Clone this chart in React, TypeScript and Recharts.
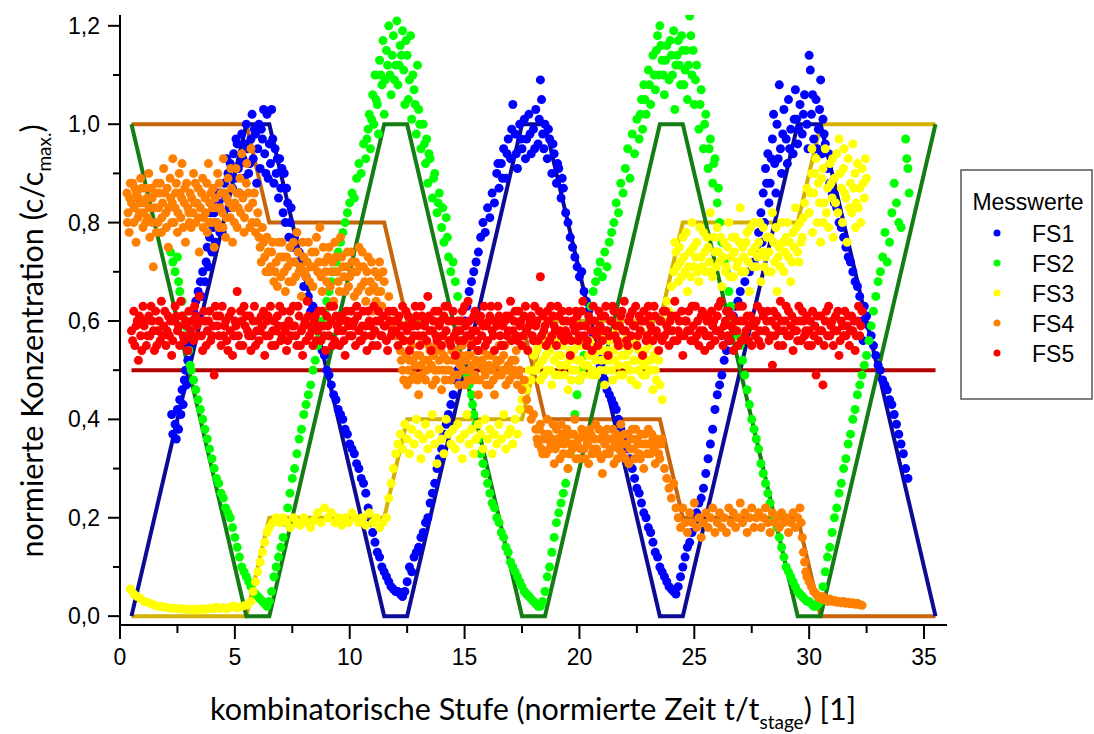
import React from 'react'
import { ComposedChart, Scatter, Line, XAxis, YAxis } from 'recharts'

type Pt = [number, number]

// measured concentrations (x = stage, y = c/cmax)
const fs1Points: Pt[] = [
  [2.25,0.41],[2.3,0.37],[2.4,0.39],[2.45,0.36],[2.5,0.42],[2.55,0.38],[2.6,0.44],[2.65,0.41],[2.7,0.46],[2.75,0.43],[2.8,0.48],[2.85,0.5],[2.9,0.47],[2.95,0.52],[3.0,0.55],[3.05,0.58],[3.1,0.56],[3.15,0.6],[3.2,0.62],[3.3,0.64],[3.35,0.61],[3.4,0.66],[3.5,0.68],[3.55,0.65],[3.6,0.7],[3.7,0.68],[3.75,0.72],[3.8,0.75],[3.85,0.71],[3.9,0.77],[4.0,0.74],[4.05,0.79],[4.1,0.82],[4.15,0.76],[4.2,0.8],[4.3,0.84],[4.35,0.78],[4.4,0.86],[4.5,0.82],[4.55,0.88],
  [4.6,0.85],[4.7,0.9],[4.75,0.83],[4.8,0.92],[4.9,0.87],[4.95,0.94],[5.0,0.89],[5.1,0.96],[5.15,0.91],[5.2,0.86],[5.3,0.98],[5.35,0.93],[5.4,0.89],[5.5,1.0],[5.55,0.95],[5.6,0.9],[5.7,0.97],[5.75,1.02],[5.8,0.93],[5.9,0.98],[5.95,0.88],[6.0,0.95],[6.05,1.0],[6.1,0.91],[6.2,0.97],[6.25,1.03],[6.3,0.94],[6.4,1.02],[6.45,0.89],[6.5,0.96],[6.55,0.92],[6.6,1.03],[6.7,0.88],[6.75,0.95],[6.8,0.9],[6.9,0.85],[6.95,0.93],[7.0,0.87],[7.1,0.82],[7.15,0.9],[7.2,0.8],[7.3,0.84],[7.35,0.77],[7.4,0.8],[7.5,0.75],
  [3.95,0.82],[4.25,0.86],[4.45,0.78],[4.65,0.93],[4.85,0.89],[5.05,0.97],[5.25,0.92],[5.45,0.96],[5.65,0.92],[5.85,0.99],[6.15,0.99],[6.35,0.9],[6.65,0.97],[6.85,0.93],[7.05,0.91],[7.25,0.87],[7.45,0.83],
  [7.6,0.77],[7.7,0.72],[7.8,0.74],[7.9,0.7],[8.0,0.67],[8.1,0.69],[8.2,0.65],[8.3,0.62],[8.4,0.63],[8.5,0.6],[8.6,0.58],[8.7,0.56],[8.8,0.54],[8.9,0.53],[9.0,0.5],[9.1,0.49],[9.2,0.47],[9.3,0.45],[9.4,0.44],[9.5,0.42],[9.6,0.41],[9.7,0.4],[9.8,0.38],[9.9,0.37],[10.0,0.35],[10.1,0.34],[10.2,0.33],[10.3,0.31],[10.4,0.3],[10.5,0.28],[10.6,0.27],[10.7,0.25],[10.8,0.22],[10.9,0.19],[11.0,0.17],[11.1,0.15],[11.2,0.13],[11.3,0.12],[11.4,0.1],[11.5,0.09],[11.6,0.08],[11.7,0.07],[11.8,0.06],[11.9,0.055],[12.0,0.05],[12.1,0.05],[12.2,0.045],[12.3,0.04],[12.4,0.05],
  [12.5,0.07],[12.6,0.1],[12.7,0.09],[12.8,0.12],[12.9,0.13],[13.0,0.14],[13.1,0.16],[13.2,0.17],[13.3,0.19],[13.4,0.2],[13.5,0.23],[13.6,0.25],[13.7,0.27],[13.8,0.3],[13.9,0.32],[14.0,0.34],[14.1,0.37],[14.2,0.39],[14.3,0.41],[14.4,0.43],[14.5,0.45],[14.6,0.48],[14.7,0.5],[14.8,0.53],[14.9,0.56],[15.0,0.6],[15.1,0.63],[15.2,0.66],[15.3,0.68],[15.4,0.7],[15.5,0.72],[15.6,0.74],[15.7,0.77],[15.8,0.8],[15.9,0.78],[16.0,0.83],[16.1,0.81],[16.2,0.86],[16.3,0.84],
  [16.4,0.9],[16.5,0.87],[16.6,0.92],[16.7,0.95],[16.8,0.89],[16.9,0.97],[17.0,0.93],[17.1,1.04],[17.2,0.98],[17.3,0.91],[17.4,1.0],[17.5,0.95],[17.6,1.01],[17.7,0.97],[17.8,1.02],[17.9,0.94],[18.0,0.99],[18.1,1.03],[18.2,0.96],[18.3,1.09],[18.35,1.05],[18.4,0.98],[18.5,1.0],[18.6,0.93],[18.7,0.97],[18.8,0.9],[18.9,0.94],[19.0,0.88],[19.1,0.91],[19.2,0.85],[19.3,0.87],[19.4,0.82],[19.5,0.8],[19.6,0.77],
  [16.45,0.92],[16.65,0.89],[16.85,0.94],[17.05,0.99],[17.25,0.94],[17.45,0.97],[17.65,0.93],[17.85,0.98],[18.05,0.95],[18.25,1.01],[18.45,0.95],[18.65,0.99],[18.85,0.96],[19.05,0.92],[19.25,0.89],
  [19.7,0.75],[19.8,0.73],[19.9,0.71],[20.0,0.69],[20.1,0.7],[20.2,0.66],[20.3,0.64],[20.4,0.62],[20.5,0.6],[20.6,0.57],[20.7,0.55],[20.8,0.53],[20.9,0.51],[21.0,0.49],[21.1,0.48],[21.2,0.46],[21.3,0.45],[21.4,0.44],[21.5,0.43],[21.6,0.42],[21.7,0.4],[21.8,0.38],[21.9,0.36],[22.0,0.35],[22.1,0.34],[22.2,0.32],[22.3,0.3],[22.4,0.28],[22.5,0.26],[22.6,0.25],[22.7,0.23],[22.8,0.21],[22.9,0.2],[23.0,0.18],[23.1,0.17],[23.2,0.15],[23.3,0.13],[23.4,0.12],[23.5,0.1],[23.6,0.09],[23.7,0.08],[23.8,0.07],[23.9,0.06],[24.0,0.055],[24.1,0.05],[24.2,0.045],[24.3,0.06],
  [24.4,0.08],[24.5,0.1],[24.6,0.12],[24.7,0.14],[24.8,0.15],[24.9,0.17],[25.0,0.19],[25.1,0.21],[25.2,0.23],[25.3,0.24],[25.4,0.26],[25.5,0.29],[25.6,0.32],[25.7,0.35],[25.8,0.38],[25.9,0.42],[26.0,0.45],[26.1,0.47],[26.2,0.49],[26.3,0.52],[26.4,0.54],[26.5,0.56],[26.6,0.59],[26.7,0.61],[26.8,0.63],[26.9,0.64],[27.0,0.66],[27.2,0.68],[27.4,0.7],[27.6,0.72],[27.7,0.75],[27.8,0.78],[27.9,0.82],[27.95,0.76],
  [28.0,0.86],[28.05,0.8],[28.1,0.91],[28.2,0.94],[28.25,0.84],[28.3,0.88],[28.4,0.97],[28.5,0.92],[28.55,0.86],[28.6,1.0],[28.7,1.08],[28.75,0.95],[28.8,0.9],[28.9,1.03],[29.0,0.97],[29.05,0.92],[29.1,1.05],[29.2,0.99],[29.3,0.94],[29.4,1.07],[29.45,1.01],[29.5,0.96],[29.6,1.04],[29.7,0.98],[29.8,1.06],[29.9,1.0],[30.0,1.14],[30.05,1.11],[30.1,1.02],[30.2,0.97],[30.3,1.05],[30.4,0.99],[30.5,1.09],[30.55,0.94],[30.6,1.01],[30.7,0.96],[30.8,0.91],[30.9,0.88],
  [28.15,0.88],[28.35,0.93],[28.45,1.02],[28.65,0.93],[28.85,0.98],[29.15,0.95],[29.35,1.01],[29.55,0.99],[29.75,1.02],[29.95,0.95],[30.15,1.06],[30.35,0.95],[30.45,1.03],[30.65,0.98],[30.85,0.94],
  [31.0,0.86],[31.1,0.84],[31.2,0.83],[31.3,0.8],[31.4,0.79],[31.5,0.77],[31.6,0.75],[31.7,0.73],[31.8,0.72],[31.9,0.7],[32.0,0.68],[32.1,0.67],[32.2,0.65],[32.3,0.6],[32.35,0.56],[32.4,0.63],[32.5,0.61],[32.6,0.59],[32.7,0.57],[32.8,0.55],[32.9,0.53],[33.0,0.51],[33.1,0.5],[33.2,0.48],[33.3,0.47],[33.4,0.46],[33.5,0.44],[33.6,0.43],[33.7,0.41],[33.8,0.39],[33.9,0.37],[34.0,0.35],[34.1,0.33],[34.2,0.3],[34.3,0.28],
]

const fs2Points: Pt[] = [
  [2.2,0.74],[2.3,0.72],[2.4,0.7],[2.5,0.73],[2.55,0.68],[2.6,0.66],[2.7,0.64],[2.75,0.61],[2.8,0.59],[2.9,0.57],[3.0,0.54],[3.05,0.51],[3.1,0.5],[3.2,0.48],[3.3,0.46],[3.4,0.44],[3.5,0.42],[3.6,0.4],[3.7,0.38],[3.8,0.36],[3.9,0.34],[4.0,0.32],[4.1,0.3],[4.2,0.28],[4.3,0.27],[4.4,0.25],[4.5,0.24],[4.6,0.22],[4.7,0.21],[4.8,0.2],[4.9,0.18],[5.0,0.16],[5.1,0.14],[5.2,0.12],[5.3,0.1],[5.4,0.09],[5.5,0.08],[5.6,0.07],[5.7,0.06],[5.8,0.05],[5.9,0.045],[6.0,0.04],[6.1,0.035],[6.2,0.03],[6.3,0.025],[6.4,0.02],
  [6.5,0.03],[6.6,0.05],[6.7,0.08],[6.8,0.1],[6.9,0.12],[7.0,0.14],[7.1,0.16],[7.2,0.19],[7.3,0.22],[7.4,0.25],[7.5,0.28],[7.6,0.3],[7.7,0.33],[7.8,0.36],[7.9,0.38],[8.0,0.41],[8.1,0.43],[8.2,0.45],[8.3,0.47],[8.4,0.5],[8.5,0.52],[8.6,0.55],[8.7,0.57],[8.8,0.6],[8.9,0.62],[9.0,0.64],[9.1,0.66],[9.2,0.68],[9.3,0.7],[9.4,0.72],[9.5,0.74],[9.6,0.76],[9.7,0.78],[9.8,0.8],[9.9,0.82],[10.0,0.84],[10.1,0.86],[10.2,0.85],[10.3,0.89],[10.4,0.92],[10.5,0.9],
  [10.6,0.96],[10.7,0.93],[10.8,0.99],[10.85,1.02],[10.9,0.95],[11.0,1.06],[11.05,1.0],[11.1,1.1],[11.2,1.04],[11.25,0.98],[11.3,1.13],[11.4,1.08],[11.45,1.17],[11.5,1.02],[11.6,1.15],[11.7,1.2],[11.75,1.1],[11.8,1.06],[11.9,1.18],[12.0,1.12],[12.05,1.21],[12.1,1.08],[12.2,1.16],[12.3,1.19],[12.35,1.11],[12.4,1.04],[12.5,1.14],[12.6,1.09],[12.65,1.18],[12.7,1.01],[12.8,1.07],[12.9,0.98],[12.95,1.12],[13.0,1.03],[13.1,0.95],[13.2,1.0],[13.3,0.92],[13.35,0.97],[13.4,0.88],[13.5,0.93],[13.6,0.85],[13.7,0.9],[13.8,0.82],[13.9,0.86],[14.0,0.79],[14.1,0.76],[14.2,0.81],[14.3,0.73],[14.4,0.7],[14.5,0.72],[14.6,0.68],[14.7,0.65],
  [10.75,0.97],[10.95,1.01],[11.15,1.05],[11.35,1.1],[11.55,1.09],[11.65,1.12],[11.85,1.14],[11.95,1.09],[12.15,1.12],[12.25,1.14],[12.45,1.17],[12.55,1.05],[12.75,1.1],[12.85,1.04],[13.05,1.0],[13.25,0.96],[13.45,0.94],[13.65,0.89],[13.85,0.84],[14.05,0.83],[14.25,0.77],
  [14.8,0.6],[14.9,0.56],[15.0,0.52],[15.1,0.49],[15.2,0.47],[15.3,0.45],[15.35,0.43],[15.4,0.41],[15.5,0.39],[15.6,0.36],[15.7,0.33],[15.8,0.31],[15.9,0.29],[16.0,0.27],[16.1,0.25],[16.2,0.23],[16.3,0.22],[16.4,0.2],[16.5,0.19],[16.6,0.17],[16.7,0.16],[16.8,0.14],[16.9,0.13],[17.0,0.11],[17.1,0.1],[17.2,0.09],[17.3,0.08],[17.4,0.07],[17.5,0.06],[17.6,0.05],[17.7,0.045],[17.8,0.04],[17.9,0.035],[18.0,0.03],[18.1,0.025],[18.2,0.02],[18.3,0.02],[18.4,0.03],
  [18.5,0.05],[18.6,0.08],[18.7,0.1],[18.8,0.13],[18.9,0.16],[19.0,0.19],[19.1,0.21],[19.2,0.23],[19.3,0.25],[19.4,0.27],[19.5,0.3],[19.6,0.33],[19.7,0.37],[19.8,0.41],[19.9,0.45],[20.0,0.48],[20.1,0.5],[20.2,0.53],[20.3,0.56],[20.4,0.6],[20.5,0.63],[20.6,0.66],[20.7,0.68],[20.8,0.7],[20.9,0.72],[21.0,0.69],[21.1,0.74],[21.2,0.71],[21.3,0.76],[21.4,0.78],[21.5,0.8],[21.6,0.84],[21.7,0.82],[21.8,0.88],[21.9,0.86],[22.0,0.91],[22.1,0.95],[22.2,0.89],[22.3,0.98],[22.4,0.94],[22.5,1.01],
  [22.6,0.97],[22.7,1.05],[22.75,0.99],[22.8,1.08],[22.9,1.02],[23.0,1.11],[23.1,1.04],[23.2,1.14],[23.3,1.07],[23.4,1.18],[23.45,1.1],[23.5,1.2],[23.6,1.13],[23.7,1.06],[23.8,1.16],[23.9,1.09],[24.0,1.14],[24.1,1.19],[24.15,1.03],[24.2,1.12],[24.3,1.17],[24.4,1.08],[24.5,1.15],[24.6,1.11],[24.7,1.05],[24.8,1.22],[24.85,1.18],[24.9,1.1],[25.0,1.04],[25.1,1.12],[25.2,0.99],[25.3,1.07],[25.4,0.95],[25.5,1.02],[25.6,0.91],[25.7,0.97],[25.8,0.88],[25.9,0.93],[26.0,0.84],[26.1,0.8],[26.2,0.76],[26.3,0.72],[26.4,0.7],[26.5,0.66],[26.6,0.63],
  [22.65,1.02],[22.85,1.05],[23.05,1.08],[23.25,1.1],[23.35,1.15],[23.55,1.16],[23.65,1.1],[23.75,1.13],[23.95,1.17],[24.05,1.1],[24.25,1.14],[24.35,1.12],[24.45,1.18],[24.55,1.08],[24.65,1.15],[24.75,1.12],[24.95,1.15],[25.05,1.09],[25.25,1.04],[25.45,1.0],[25.65,0.95],[25.85,0.92],[26.05,0.87],
  [26.7,0.6],[26.8,0.58],[26.9,0.57],[27.0,0.55],[27.1,0.52],[27.2,0.49],[27.3,0.46],[27.4,0.43],[27.5,0.4],[27.6,0.38],[27.7,0.36],[27.8,0.34],[27.9,0.31],[28.0,0.29],[28.1,0.27],[28.2,0.25],[28.3,0.23],[28.4,0.21],[28.5,0.2],[28.6,0.18],[28.7,0.16],[28.8,0.14],[28.9,0.12],[29.0,0.1],[29.1,0.09],[29.2,0.08],[29.3,0.07],[29.4,0.06],[29.5,0.05],[29.6,0.045],[29.7,0.04],[29.8,0.035],[29.9,0.03],[30.0,0.03],[30.1,0.025],[30.2,0.02],[30.3,0.02],[30.4,0.025],[30.5,0.03],
  [30.6,0.06],[30.7,0.09],[30.8,0.12],[30.9,0.14],[31.0,0.17],[31.1,0.2],[31.2,0.22],[31.3,0.25],[31.4,0.27],[31.5,0.3],[31.6,0.32],[31.7,0.35],[31.8,0.37],[31.9,0.4],[32.0,0.42],[32.1,0.45],[32.2,0.47],[32.3,0.49],[32.4,0.51],[32.5,0.53],[32.6,0.56],[32.7,0.59],[32.8,0.62],[32.9,0.65],[33.0,0.68],[33.1,0.7],[33.2,0.73],[33.3,0.78],[33.4,0.72],[33.5,0.76],[33.6,0.82],[33.7,0.88],[33.8,0.84],[33.9,0.8],[34.0,0.79],[34.2,0.97],[34.25,0.93],[34.3,0.91],[34.35,0.86],
]

const fs3Points: Pt[] = [
  [0.45,0.055],[0.6,0.045],[0.75,0.04],[0.9,0.035],[1.05,0.03],[1.2,0.028],[1.35,0.025],[1.5,0.022],[1.65,0.02],[1.8,0.02],[1.95,0.018],[2.1,0.017],[2.25,0.016],[2.4,0.016],[2.55,0.015],[2.7,0.015],[2.85,0.014],[3.0,0.014],[3.15,0.013],[3.3,0.014],[3.45,0.013],[3.6,0.015],[3.75,0.014],[3.9,0.016],[4.05,0.015],[4.2,0.018],[4.35,0.016],[4.5,0.017],[4.65,0.015],[4.8,0.018],[4.95,0.02],[5.1,0.017],[5.25,0.019],[5.4,0.021],[5.55,0.023],[5.7,0.03],[5.8,0.05],[5.9,0.07],[6.0,0.09],[6.1,0.11],[6.2,0.13],[6.3,0.15],[6.4,0.17],[6.5,0.18],
  [6.65,0.19],[6.8,0.2],[6.95,0.19],[7.1,0.2],[7.25,0.19],[7.4,0.18],[7.55,0.2],[7.7,0.19],[7.85,0.185],[8.0,0.2],[8.15,0.19],[8.3,0.18],[8.45,0.195],[8.6,0.21],[8.75,0.19],[8.9,0.22],[9.05,0.2],[9.2,0.21],[9.35,0.19],[9.5,0.2],[9.65,0.185],[9.8,0.2],[9.95,0.19],[10.1,0.21],[10.25,0.2],[10.4,0.19],[10.55,0.2],[10.7,0.185],[10.85,0.21],[11.0,0.19],[11.15,0.2],[11.3,0.18],[11.45,0.19],[11.6,0.2],[11.7,0.24],[11.8,0.27],[11.9,0.3],[12.0,0.33],[12.1,0.35],[12.2,0.37],[12.3,0.34],[12.4,0.39],
  [12.5,0.36],[12.6,0.33],[12.7,0.38],[12.8,0.35],[12.9,0.4],[13.0,0.37],[13.1,0.32],[13.2,0.36],[13.3,0.39],[13.4,0.34],[13.5,0.37],[13.6,0.41],[13.7,0.35],[13.8,0.31],[13.9,0.38],[14.0,0.36],[14.1,0.33],[14.2,0.4],[14.3,0.37],[14.4,0.35],[14.5,0.38],[14.6,0.34],[14.7,0.39],[14.8,0.36],[14.9,0.32],[15.0,0.37],[15.1,0.41],[15.2,0.35],[15.3,0.38],[15.4,0.33],[15.5,0.36],[15.6,0.39],[15.7,0.37],[15.8,0.34],[15.9,0.4],[16.0,0.36],[16.1,0.38],[16.2,0.33],[16.3,0.37],[16.4,0.35],[16.5,0.39],[16.6,0.36],[16.7,0.41],[16.8,0.34],[16.9,0.37],[17.0,0.38],[17.1,0.35],[17.2,0.4],[17.3,0.37],[17.4,0.42],[17.5,0.44],[17.6,0.47],[17.7,0.46],[17.8,0.5],[17.9,0.48],
  [18.0,0.53],[18.1,0.5],[18.2,0.55],[18.3,0.48],[18.4,0.52],[18.5,0.57],[18.6,0.5],[18.7,0.54],[18.8,0.47],[18.9,0.52],[19.0,0.56],[19.1,0.49],[19.2,0.53],[19.3,0.58],[19.4,0.51],[19.5,0.46],[19.6,0.54],[19.7,0.5],[19.8,0.56],[19.9,0.52],[20.0,0.48],[20.1,0.55],[20.2,0.51],[20.3,0.59],[20.4,0.53],[20.5,0.49],[20.6,0.55],[20.7,0.52],[20.8,0.57],[20.9,0.5],[21.0,0.54],[21.1,0.47],[21.2,0.52],[21.3,0.56],[21.4,0.5],[21.5,0.54],[21.6,0.58],[21.7,0.51],[21.8,0.55],[21.9,0.49],[22.0,0.53],[22.1,0.57],[22.2,0.5],[22.3,0.55],[22.4,0.52],[22.5,0.47],[22.6,0.54],[22.7,0.58],[22.8,0.51],[22.9,0.49],[23.0,0.55],[23.1,0.52],[23.2,0.46],[23.3,0.5],[23.4,0.54],[23.5,0.47],[23.6,0.44],[23.7,0.6],[23.8,0.64],[23.9,0.62],[24.0,0.67],
  [18.05,0.5],[18.15,0.54],[18.25,0.51],[18.35,0.56],[18.45,0.49],[18.55,0.53],[18.65,0.55],[18.75,0.5],[18.85,0.56],[18.95,0.49],[19.05,0.53],[19.15,0.51],[19.25,0.55],[19.35,0.49],[19.45,0.56],[19.55,0.52],[19.65,0.48],[19.75,0.54],[19.85,0.5],[19.95,0.55],[20.05,0.52],[20.15,0.49],[20.25,0.55],[20.35,0.51],[20.45,0.56],[20.55,0.5],[20.65,0.53],[20.75,0.49],[20.85,0.54],[20.95,0.52],[21.05,0.57],[21.15,0.5],[21.25,0.54],[21.35,0.52],[21.45,0.48],[21.55,0.52],[21.65,0.55],[21.75,0.49],[21.85,0.53],[21.95,0.56],[22.05,0.51],[22.15,0.54],[22.25,0.48],[22.35,0.52],[22.45,0.56],[22.55,0.5],[22.65,0.52],[22.75,0.49],[22.85,0.54],[22.95,0.52],[23.05,0.5],[23.15,0.56],[23.25,0.53],[23.35,0.48],[23.45,0.52],
  [24.1,0.7],[24.2,0.74],[24.3,0.68],[24.4,0.72],[24.5,0.77],[24.6,0.7],[24.7,0.66],[24.8,0.74],[24.9,0.8],[25.0,0.71],[25.1,0.76],[25.2,0.68],[25.3,0.73],[25.4,0.78],[25.5,0.7],[25.6,0.75],[25.7,0.82],[25.8,0.69],[25.9,0.74],[26.0,0.79],[26.1,0.72],[26.2,0.67],[26.3,0.76],[26.4,0.71],[26.5,0.8],[26.6,0.73],[26.7,0.69],[26.8,0.77],[26.9,0.72],[27.0,0.83],[27.1,0.75],[27.2,0.7],[27.3,0.78],[27.4,0.66],[27.5,0.74],[27.6,0.8],[27.7,0.71],[27.8,0.76],[27.9,0.68],[28.0,0.79],[28.1,0.73],[28.2,0.7],[28.3,0.77],[28.4,0.82],[28.5,0.72],[28.6,0.66],[28.7,0.75],[28.8,0.8],[28.9,0.7],[29.0,0.77],[29.1,0.73],[29.2,0.68],[29.3,0.78],[29.4,0.83],[29.5,0.74],[29.6,0.8],[29.7,0.77],[29.8,0.84],[29.9,0.87],
  [24.15,0.76],[24.25,0.71],[24.35,0.75],[24.45,0.69],[24.55,0.73],[24.65,0.78],[24.75,0.71],[24.85,0.69],[24.95,0.75],[25.05,0.73],[25.15,0.7],[25.25,0.79],[25.35,0.71],[25.45,0.74],[25.55,0.77],[25.65,0.72],[25.75,0.7],[25.85,0.77],[25.95,0.71],[26.05,0.74],[26.15,0.77],[26.25,0.73],[26.35,0.7],[26.45,0.75],[26.55,0.69],[26.65,0.77],[26.75,0.74],[26.85,0.71],[26.95,0.76],[27.05,0.7],[27.15,0.73],[27.25,0.76],[27.35,0.72],[27.45,0.79],[27.55,0.71],[27.65,0.75],[27.75,0.73],[27.85,0.8],[27.95,0.74],[28.05,0.71],[28.15,0.77],[28.25,0.74],[28.35,0.7],[28.45,0.76],[28.55,0.79],[28.65,0.73],[28.75,0.71],[28.85,0.76],[28.95,0.74],[29.05,0.8],[29.15,0.76],[29.25,0.72],[29.35,0.75],[29.45,0.79],[29.55,0.72],[29.65,0.76],[29.75,0.81],
  [30.0,0.82],[30.1,0.9],[30.15,0.78],[30.2,0.86],[30.3,0.93],[30.35,0.8],[30.4,0.88],[30.5,0.76],[30.6,0.91],[30.65,0.84],[30.7,0.95],[30.8,0.87],[30.85,0.79],[30.9,0.92],[31.0,0.85],[31.05,0.77],[31.1,0.89],[31.2,0.94],[31.25,0.82],[31.3,0.97],[31.4,0.87],[31.45,0.8],[31.5,0.91],[31.6,0.85],[31.65,0.76],[31.7,0.93],[31.8,0.88],[31.85,0.82],[31.9,0.96],[32.0,0.9],[32.05,0.84],[32.1,0.92],[32.2,0.87],[32.25,0.8],[32.3,0.91],[32.4,0.85],[32.5,0.89],
  [30.05,0.86],[30.25,0.9],[30.45,0.84],[30.55,0.89],[30.75,0.82],[30.95,0.88],[31.15,0.84],[31.35,0.9],[31.55,0.86],[31.75,0.83],[31.95,0.87],[32.15,0.83],[32.35,0.88],[30.12,0.95],[30.62,0.8],[31.02,0.93],[31.52,0.95],[32.02,0.79],[32.45,0.93],
]

const fs4Points: Pt[] = [
  [0.3,0.86],[0.35,0.82],[0.4,0.78],[0.45,0.88],[0.5,0.84],[0.6,0.8],[0.65,0.87],[0.7,0.76],[0.8,0.85],[0.85,0.82],[0.9,0.89],[1.0,0.79],[1.05,0.84],[1.1,0.87],[1.2,0.81],[1.25,0.9],[1.3,0.77],[1.4,0.85],[1.45,0.71],[1.5,0.83],[1.6,0.88],[1.65,0.8],[1.7,0.86],[1.8,0.78],[1.85,0.84],[1.9,0.91],[2.0,0.82],[2.05,0.87],[2.1,0.75],[2.2,0.85],[2.25,0.8],[2.3,0.93],[2.4,0.83],[2.45,0.88],[2.5,0.78],[2.6,0.86],[2.65,0.81],[2.7,0.92],[2.8,0.84],[2.85,0.76],[2.9,0.88],[3.0,0.82],[3.05,0.86],[3.1,0.79],[3.2,0.9],[3.25,0.84],[3.3,0.8],[3.4,0.87],[3.45,0.74],[3.5,0.83],[3.6,0.89],[3.65,0.81],[3.7,0.85],[3.8,0.78],[3.85,0.92],[3.9,0.84],[4.0,0.8],[4.05,0.87],[4.1,0.75],[4.2,0.83],[4.25,0.9],[4.3,0.79],[4.4,0.86],[4.45,0.82],[4.5,0.93],[4.6,0.77],[4.65,0.85],[4.7,0.89],[4.8,0.81],[4.85,0.87],[4.9,0.76],[5.0,0.84],[5.05,0.91],[5.1,0.79],[5.2,0.86],[5.25,0.82],[5.3,0.94],[5.4,0.78],[5.5,0.88],[5.6,0.83],[5.7,0.95],[5.75,0.8],
  [0.32,0.8],[0.42,0.85],[0.55,0.88],[0.62,0.83],[0.72,0.86],[0.78,0.81],[0.88,0.84],[0.95,0.87],[1.02,0.82],[1.12,0.8],[1.18,0.85],[1.28,0.83],[1.35,0.87],[1.42,0.8],[1.52,0.86],[1.58,0.78],[1.68,0.83],[1.75,0.88],[1.82,0.81],[1.95,0.86],[2.02,0.79],[2.12,0.83],[2.18,0.89],[2.28,0.84],[2.35,0.8],[2.42,0.86],[2.52,0.82],[2.58,0.9],[2.68,0.85],[2.75,0.79],[2.82,0.87],[2.95,0.83],[3.02,0.8],[3.12,0.85],[3.18,0.82],[3.28,0.88],[3.35,0.84],[3.42,0.81],[3.55,0.86],[3.62,0.79],[3.72,0.82],[3.78,0.88],[3.88,0.8],[3.95,0.86],[4.02,0.83],[4.15,0.85],[4.22,0.8],[4.32,0.88],[4.38,0.83],[4.48,0.79],[4.55,0.86],[4.62,0.81],[4.75,0.84],[4.82,0.91],[4.92,0.83],[4.98,0.8],[5.08,0.86],[5.15,0.83],[5.22,0.89],[5.35,0.85],[5.42,0.81],[5.52,0.92],[5.58,0.86],[5.65,0.79],[5.78,0.84],
  [5.85,0.86],[5.9,0.78],[6.0,0.82],[6.1,0.75],[6.2,0.79],[6.3,0.73],[6.4,0.77],[6.5,0.7],[6.6,0.74],[6.7,0.68],[6.8,0.72],[6.9,0.76],[7.0,0.69],[7.1,0.73],[7.2,0.66],[7.3,0.71],[7.4,0.75],[7.5,0.68],[7.6,0.72],[7.7,0.78],[7.8,0.7],[7.9,0.65],[8.0,0.73],[8.1,0.69],[8.2,0.76],[8.3,0.71],[8.4,0.67],[8.5,0.74],[8.6,0.7],[8.7,0.79],[8.8,0.66],[8.9,0.72],[9.0,0.68],[9.1,0.75],[9.2,0.7],[9.3,0.64],[9.4,0.73],[9.5,0.68],[9.6,0.77],[9.7,0.71],[9.8,0.66],[9.9,0.74],[10.0,0.69],[10.1,0.72],[10.2,0.65],[10.3,0.7],[10.4,0.75],[10.5,0.67],[10.6,0.71],[10.7,0.64],[10.8,0.73],[10.9,0.68],[11.0,0.62],[11.1,0.7],[11.2,0.66],[11.3,0.72],[11.4,0.63],[11.5,0.68],[11.6,0.61],[11.7,0.65],[11.8,0.59],[11.9,0.62],[12.0,0.57],[12.1,0.6],
  [5.95,0.8],[6.05,0.77],[6.15,0.72],[6.25,0.76],[6.35,0.7],[6.45,0.74],[6.55,0.71],[6.65,0.76],[6.75,0.7],[6.85,0.67],[6.95,0.73],[7.05,0.76],[7.15,0.7],[7.25,0.73],[7.35,0.68],[7.45,0.72],[7.55,0.76],[7.65,0.69],[7.75,0.74],[7.85,0.71],[7.95,0.76],[8.05,0.7],[8.15,0.72],[8.25,0.68],[8.35,0.74],[8.45,0.71],[8.55,0.77],[8.65,0.72],[8.75,0.69],[8.85,0.75],[8.95,0.7],[9.05,0.73],[9.15,0.67],[9.25,0.72],[9.35,0.76],[9.45,0.7],[9.55,0.66],[9.65,0.73],[9.75,0.69],[9.85,0.71],[9.95,0.67],[10.05,0.74],[10.15,0.7],[10.25,0.72],[10.35,0.66],[10.45,0.71],[10.55,0.74],[10.65,0.68],[10.75,0.7],[10.85,0.66],[10.95,0.72],[11.05,0.67],[11.15,0.64],[11.25,0.69],[11.35,0.66],[11.45,0.7],
  [12.2,0.54],[12.3,0.5],[12.4,0.56],[12.5,0.47],[12.6,0.52],[12.7,0.55],[12.8,0.49],[12.9,0.53],[13.0,0.45],[13.1,0.51],[13.2,0.56],[13.3,0.48],[13.4,0.52],[13.5,0.54],[13.6,0.47],[13.7,0.5],[13.8,0.55],[13.9,0.52],[14.0,0.46],[14.1,0.53],[14.2,0.5],[14.3,0.56],[14.4,0.48],[14.5,0.52],[14.6,0.54],[14.7,0.49],[14.8,0.51],[14.9,0.55],[15.0,0.47],[15.1,0.53],[15.2,0.5],[15.3,0.56],[15.4,0.48],[15.5,0.52],[15.6,0.45],[15.7,0.51],[15.8,0.54],[15.9,0.49],[16.0,0.53],[16.1,0.47],[16.2,0.5],[16.3,0.45],[16.4,0.52],[16.5,0.55],[16.6,0.49],[16.7,0.53],[16.8,0.47],[16.9,0.51],[17.0,0.56],[17.1,0.49],[17.2,0.52],[17.3,0.47],[17.4,0.5],[17.5,0.46],[17.6,0.48],[17.7,0.44],[17.8,0.42],[17.9,0.4],[18.0,0.41],
  [12.25,0.52],[12.35,0.48],[12.45,0.53],[12.55,0.5],[12.65,0.48],[12.75,0.52],[12.85,0.51],[12.95,0.48],[13.05,0.53],[13.15,0.49],[13.25,0.52],[13.35,0.5],[13.45,0.55],[13.55,0.51],[13.65,0.53],[13.75,0.48],[13.85,0.5],[13.95,0.54],[14.05,0.5],[14.15,0.48],[14.25,0.52],[14.35,0.5],[14.45,0.54],[14.55,0.49],[14.65,0.52],[14.75,0.47],[14.85,0.53],[14.95,0.5],[15.05,0.52],[15.15,0.48],[15.25,0.53],[15.35,0.51],[15.45,0.49],[15.55,0.54],[15.65,0.48],[15.75,0.52],[15.85,0.5],[15.95,0.47],[16.05,0.51],[16.15,0.53],[16.25,0.48],[16.35,0.51],[16.45,0.49],[16.55,0.52],[16.65,0.5],[16.75,0.55],[16.85,0.5],[16.95,0.48],[17.05,0.52],[17.15,0.5],[17.25,0.54],[17.35,0.49],
  [18.1,0.38],[18.2,0.35],[18.3,0.39],[18.4,0.33],[18.5,0.37],[18.6,0.4],[18.7,0.34],[18.8,0.36],[18.9,0.31],[19.0,0.38],[19.1,0.35],[19.2,0.39],[19.3,0.33],[19.4,0.36],[19.5,0.3],[19.6,0.37],[19.7,0.34],[19.8,0.4],[19.9,0.35],[20.0,0.32],[20.1,0.38],[20.2,0.34],[20.3,0.36],[20.4,0.31],[20.5,0.37],[20.6,0.34],[20.7,0.39],[20.8,0.33],[20.9,0.36],[21.0,0.29],[21.1,0.35],[21.2,0.38],[21.3,0.33],[21.4,0.36],[21.5,0.31],[21.6,0.37],[21.7,0.34],[21.8,0.39],[21.9,0.35],[22.0,0.32],[22.1,0.37],[22.2,0.34],[22.3,0.38],[22.4,0.32],[22.5,0.36],[22.6,0.33],[22.7,0.37],[22.8,0.3],[22.9,0.35],[23.0,0.38],[23.1,0.33],[23.2,0.36],[23.3,0.31],[23.4,0.35],[23.5,0.32],[23.6,0.36],[23.7,0.3],[23.8,0.28],[23.9,0.26],[24.0,0.24],[24.1,0.27],[24.2,0.22],
  [18.15,0.36],[18.25,0.38],[18.35,0.34],[18.45,0.36],[18.55,0.33],[18.65,0.37],[18.75,0.35],[18.85,0.39],[18.95,0.34],[19.05,0.36],[19.15,0.32],[19.25,0.37],[19.35,0.35],[19.45,0.38],[19.55,0.33],[19.65,0.35],[19.75,0.37],[19.85,0.32],[19.95,0.36],[20.05,0.34],[20.15,0.37],[20.25,0.32],[20.35,0.35],[20.45,0.38],[20.55,0.33],[20.65,0.36],[20.75,0.34],[20.85,0.38],[20.95,0.32],[21.05,0.37],[21.15,0.33],[21.25,0.36],[21.35,0.34],[21.45,0.38],[21.55,0.35],[21.65,0.32],[21.75,0.36],[21.85,0.33],[21.95,0.37],[22.05,0.35],[22.15,0.31],[22.25,0.36],[22.35,0.34],[22.45,0.38],[22.55,0.35],[22.65,0.32],[22.75,0.35],[22.85,0.37],[22.95,0.33],[23.05,0.35],[23.15,0.37],[23.25,0.34],[23.35,0.36],[23.45,0.33],[23.55,0.35],
  [24.3,0.2],[24.4,0.18],[24.5,0.22],[24.6,0.19],[24.7,0.17],[24.8,0.21],[24.9,0.19],[25.0,0.23],[25.1,0.18],[25.2,0.2],[25.3,0.16],[25.4,0.19],[25.5,0.21],[25.6,0.18],[25.7,0.2],[25.8,0.22],[25.9,0.17],[26.0,0.19],[26.1,0.21],[26.2,0.18],[26.3,0.2],[26.4,0.17],[26.5,0.22],[26.6,0.19],[26.7,0.21],[26.8,0.18],[26.9,0.2],[27.0,0.23],[27.1,0.19],[27.2,0.21],[27.3,0.17],[27.4,0.2],[27.5,0.22],[27.6,0.18],[27.7,0.2],[27.8,0.21],[27.9,0.18],[28.0,0.2],[28.1,0.22],[28.2,0.19],[28.3,0.17],[28.4,0.21],[28.5,0.19],[28.6,0.2],[28.7,0.18],[28.8,0.21],[28.9,0.19],[29.0,0.2],[29.1,0.17],[29.2,0.19],[29.3,0.21],[29.4,0.18],[29.5,0.2],[29.6,0.22],[29.65,0.19],[29.7,0.16],[29.75,0.13],[29.8,0.11],[29.85,0.09],[29.9,0.08],[30.0,0.07],[30.1,0.06],[30.2,0.05],
  [30.3,0.045],[30.4,0.04],[30.5,0.035],[30.6,0.04],[30.7,0.035],[30.8,0.03],[30.9,0.035],[31.0,0.03],[31.1,0.032],[31.2,0.028],[31.3,0.03],[31.4,0.027],[31.5,0.03],[31.6,0.026],[31.7,0.028],[31.8,0.025],[31.9,0.027],[32.0,0.024],[32.1,0.026],[32.2,0.023],[32.3,0.022],
]

const fs5Points: Pt[] = [
  [0.5,0.58],[0.6,0.62],[0.65,0.55],[0.75,0.6],[0.8,0.52],[0.9,0.57],[1.0,0.63],[1.05,0.59],[1.15,0.55],[1.25,0.61],[1.3,0.57],[1.4,0.6],[1.5,0.54],[1.55,0.62],[1.65,0.58],[1.75,0.56],[1.8,0.64],[1.9,0.59],[2.0,0.55],[2.1,0.61],[2.15,0.57],[2.25,0.53],[2.35,0.6],[2.4,0.63],[2.5,0.58],[2.6,0.55],[2.7,0.61],[2.75,0.57],[2.85,0.6],[2.95,0.54],[3.0,0.62],[3.1,0.58],[3.2,0.56],[3.3,0.61],[3.35,0.59],[3.45,0.65],[3.55,0.57],[3.6,0.54],[3.7,0.6],[3.8,0.58],[3.9,0.62],[3.95,0.56],[4.05,0.59],[4.1,0.49],[4.2,0.61],[4.3,0.57],[4.4,0.55],[4.45,0.63],[4.55,0.59],[4.65,0.56],[4.75,0.61],[4.8,0.58],[4.9,0.53],[5.0,0.6],[5.1,0.66],[5.15,0.57],[5.25,0.62],[5.35,0.55],[5.45,0.59],[5.5,0.61],[5.6,0.57],[5.7,0.54],[5.8,0.6],[5.85,0.63],[5.95,0.58],
  [6.05,0.56],[6.15,0.61],[6.2,0.59],[6.3,0.53],[6.4,0.6],[6.5,0.57],[6.55,0.63],[6.65,0.58],[6.75,0.55],[6.85,0.61],[6.9,0.59],[7.0,0.56],[7.1,0.62],[7.2,0.58],[7.25,0.54],[7.35,0.6],[7.45,0.57],[7.55,0.63],[7.6,0.59],[7.7,0.55],[7.8,0.61],[7.9,0.58],[7.95,0.53],[8.05,0.6],[8.15,0.64],[8.25,0.57],[8.3,0.59],[8.4,0.55],[8.5,0.61],[8.6,0.58],[8.65,0.62],[8.75,0.56],[8.85,0.59],[8.95,0.54],[9.0,0.61],[9.1,0.57],[9.2,0.6],[9.3,0.63],[9.35,0.56],[9.45,0.59],[9.55,0.55],[9.65,0.61],[9.7,0.58],[9.8,0.53],[9.9,0.6],[10.0,0.57],[10.05,0.62],[10.15,0.59],[10.25,0.55],[10.35,0.61],[10.4,0.58],[10.5,0.56],[10.6,0.62],[10.7,0.59],[10.75,0.54],[10.85,0.6],[10.95,0.57],[11.05,0.63],[11.1,0.58],[11.2,0.55],[11.3,0.6],[11.4,0.57],[11.45,0.61],[11.55,0.59],[11.65,0.54],[11.75,0.6],[11.8,0.57],[11.9,0.62],
  [0.55,0.56],[0.7,0.59],[0.85,0.61],[0.95,0.54],[1.1,0.6],[1.2,0.57],[1.35,0.63],[1.45,0.58],[1.6,0.55],[1.7,0.6],[1.85,0.57],[1.95,0.62],[2.05,0.58],[2.2,0.6],[2.3,0.56],[2.45,0.61],[2.55,0.59],[2.65,0.64],[2.8,0.56],[2.9,0.59],[3.05,0.57],[3.15,0.6],[3.25,0.63],[3.4,0.57],[3.5,0.6],[3.65,0.62],[3.75,0.55],[3.85,0.6],[4.0,0.57],[4.15,0.63],[4.25,0.59],[4.35,0.61],[4.5,0.57],[4.6,0.6],[4.7,0.54],[4.85,0.62],[4.95,0.57],[5.05,0.59],[5.2,0.55],[5.3,0.6],[5.4,0.63],[5.55,0.58],[5.65,0.61],[5.75,0.57],[5.9,0.55],[6.0,0.6],[6.1,0.58],[6.25,0.62],[6.35,0.57],[6.45,0.61],[6.6,0.55],[6.7,0.6],[6.8,0.58],[6.95,0.63],[7.05,0.57],[7.15,0.59],[7.3,0.56],[7.4,0.62],[7.5,0.59],[7.65,0.57],[7.75,0.63],[7.85,0.55],[8.0,0.59],[8.1,0.56],[8.2,0.61],[8.35,0.58],[8.45,0.6],[8.55,0.56],[8.7,0.59],[8.8,0.62],[8.9,0.57],[9.05,0.59],[9.15,0.63],[9.25,0.55],[9.4,0.61],[9.5,0.58],[9.6,0.6],[9.75,0.56],[9.85,0.62],[9.95,0.59],[10.1,0.57],[10.2,0.6],[10.3,0.63],[10.45,0.56],[10.55,0.59],[10.65,0.57],[10.8,0.62],[10.9,0.59],[11.0,0.55],[11.15,0.6],[11.25,0.62],[11.35,0.57],[11.5,0.59],[11.6,0.56],[11.7,0.62],[11.85,0.58],[11.95,0.6],
  [12.0,0.58],[12.1,0.55],[12.15,0.61],[12.25,0.59],[12.35,0.56],[12.45,0.62],[12.5,0.58],[12.6,0.54],[12.7,0.6],[12.8,0.57],[12.85,0.63],[12.95,0.59],[13.05,0.55],[13.15,0.61],[13.2,0.57],[13.3,0.6],[13.4,0.65],[13.5,0.58],[13.55,0.54],[13.65,0.6],[13.75,0.57],[13.85,0.62],[13.9,0.59],[14.0,0.55],[14.1,0.61],[14.2,0.58],[14.25,0.63],[14.35,0.56],[14.45,0.6],[14.55,0.57],[14.6,0.53],[14.7,0.6],[14.8,0.58],[14.9,0.62],[14.95,0.56],[15.05,0.59],[15.15,0.64],[15.25,0.57],[15.3,0.55],[15.4,0.61],[15.5,0.58],[15.6,0.54],[15.65,0.6],[15.75,0.57],[15.85,0.63],[15.95,0.59],[16.0,0.56],[16.1,0.61],[16.2,0.58],[16.3,0.54],[16.35,0.6],[16.45,0.63],[16.55,0.57],[16.65,0.59],[16.7,0.55],[16.8,0.61],[16.9,0.58],[17.0,0.64],[17.05,0.56],[17.15,0.6],[17.25,0.57],[17.35,0.62],[17.4,0.59],[17.5,0.55],[17.6,0.61],[17.7,0.58],[17.75,0.54],[17.85,0.6],[17.95,0.57],
  [18.05,0.63],[18.1,0.59],[18.2,0.56],[18.3,0.69],[18.4,0.61],[18.45,0.58],[18.55,0.55],[18.65,0.6],[18.75,0.63],[18.8,0.57],[18.9,0.59],[19.0,0.55],[19.1,0.61],[19.15,0.58],[19.25,0.62],[19.35,0.56],[19.45,0.6],[19.5,0.57],[19.6,0.53],[19.7,0.6],[19.8,0.58],[19.85,0.62],[19.95,0.56],[20.05,0.59],[20.15,0.64],[20.2,0.57],[20.3,0.55],[20.4,0.61],[20.5,0.58],[20.55,0.54],[20.65,0.6],[20.75,0.57],[20.85,0.62],[20.9,0.59],[21.0,0.56],[21.1,0.61],[21.2,0.58],[21.25,0.53],[21.35,0.6],[21.45,0.63],[21.55,0.57],[21.6,0.59],[21.7,0.55],[21.8,0.61],[21.9,0.58],[21.95,0.64],[22.05,0.56],[22.15,0.6],[22.25,0.57],[22.3,0.62],[22.4,0.59],[22.5,0.55],[22.6,0.61],[22.65,0.58],[22.75,0.53],[22.85,0.6],[22.95,0.57],[23.0,0.63],[23.1,0.59],[23.2,0.56],[23.3,0.61],[23.35,0.58],[23.45,0.54],[23.55,0.6],[23.65,0.62],[23.7,0.57],[23.8,0.59],[23.9,0.55],
  [24.0,0.61],[24.05,0.58],[24.15,0.64],[24.25,0.56],[24.35,0.6],[24.4,0.57],[24.5,0.53],[24.6,0.6],[24.7,0.58],[24.75,0.62],[24.85,0.56],[24.95,0.59],[25.05,0.63],[25.1,0.57],[25.2,0.55],[25.3,0.61],[25.4,0.58],[25.45,0.54],[25.55,0.6],[25.65,0.57],[25.75,0.62],[25.8,0.59],[25.9,0.56],[26.0,0.61],[26.1,0.58],[26.15,0.64],[26.25,0.55],[26.35,0.6],[26.45,0.57],[26.5,0.62],[26.6,0.59],[26.7,0.54],[26.8,0.6],[26.85,0.58],[26.95,0.63],[27.05,0.56],[27.15,0.6],[27.2,0.57],[27.3,0.61],[27.4,0.59],[27.5,0.55],[27.55,0.6],[27.65,0.57],[27.75,0.63],[27.85,0.58],[27.9,0.55],
  [28.0,0.61],[28.1,0.58],[28.2,0.62],[28.25,0.56],[28.35,0.6],[28.4,0.51],[28.5,0.57],[28.6,0.61],[28.7,0.58],[28.75,0.64],[28.85,0.55],[28.95,0.6],[29.05,0.57],[29.1,0.62],[29.2,0.59],[29.3,0.54],[29.4,0.6],[29.45,0.58],[29.55,0.63],[29.65,0.56],[29.75,0.6],[29.8,0.57],[29.9,0.61],[30.0,0.58],[30.1,0.55],[30.15,0.62],[30.25,0.59],[30.3,0.49],[30.4,0.56],[30.5,0.61],[30.55,0.58],[30.6,0.47],[30.7,0.6],[30.8,0.57],[30.85,0.63],[30.95,0.59],[31.05,0.55],[31.15,0.61],[31.2,0.58],[31.3,0.53],[31.4,0.6],[31.5,0.57],[31.55,0.62],[31.65,0.59],[31.75,0.55],[31.85,0.61],[31.9,0.58],[32.0,0.54],[32.1,0.6],[32.2,0.57],[32.3,0.62],
  [12.05,0.6],[12.2,0.57],[12.3,0.63],[12.4,0.59],[12.55,0.61],[12.65,0.56],[12.75,0.59],[12.9,0.61],[13.0,0.57],[13.1,0.63],[13.25,0.59],[13.35,0.56],[13.45,0.61],[13.6,0.58],[13.7,0.62],[13.8,0.56],[13.95,0.6],[14.05,0.57],[14.15,0.63],[14.3,0.6],[14.4,0.55],[14.5,0.62],[14.65,0.58],[14.75,0.56],[14.85,0.6],[15.0,0.63],[15.1,0.57],[15.2,0.6],[15.35,0.58],[15.45,0.62],[15.55,0.56],[15.7,0.61],[15.8,0.59],[15.9,0.55],[16.05,0.6],[16.15,0.63],[16.25,0.57],[16.4,0.59],[16.5,0.61],[16.6,0.55],[16.75,0.6],[16.85,0.57],[16.95,0.61],[17.1,0.58],[17.2,0.62],[17.3,0.56],[17.45,0.6],[17.55,0.57],[17.65,0.63],[17.8,0.59],[17.9,0.61],[18.0,0.56],
  [18.15,0.6],[18.25,0.62],[18.35,0.57],[18.5,0.59],[18.6,0.62],[18.7,0.56],[18.85,0.61],[18.95,0.58],[19.05,0.63],[19.2,0.57],[19.3,0.6],[19.4,0.58],[19.55,0.62],[19.65,0.56],[19.75,0.59],[19.9,0.61],[20.0,0.57],[20.1,0.62],[20.25,0.59],[20.35,0.56],[20.45,0.6],[20.6,0.63],[20.7,0.58],[20.8,0.55],[20.95,0.61],[21.05,0.58],[21.15,0.63],[21.3,0.57],[21.4,0.6],[21.5,0.62],[21.65,0.56],[21.75,0.59],[21.85,0.62],[22.0,0.58],[22.1,0.55],[22.2,0.61],[22.35,0.59],[22.45,0.63],[22.55,0.57],[22.7,0.6],[22.8,0.62],[22.9,0.56],[23.05,0.61],[23.15,0.58],[23.25,0.63],[23.4,0.57],[23.5,0.6],[23.6,0.56],[23.75,0.62],[23.85,0.58],[23.95,0.6],
  [24.1,0.56],[24.2,0.61],[24.3,0.58],[24.45,0.62],[24.55,0.57],[24.65,0.6],[24.8,0.58],[24.9,0.63],[25.0,0.56],[25.15,0.6],[25.25,0.58],[25.35,0.62],[25.5,0.57],[25.6,0.61],[25.7,0.55],[25.85,0.6],[25.95,0.58],[26.05,0.63],[26.2,0.57],[26.3,0.59],[26.4,0.62],[26.55,0.56],[26.65,0.61],[26.75,0.58],[26.9,0.55],[27.0,0.6],[27.1,0.63],[27.25,0.58],[27.35,0.56],[27.45,0.61],[27.6,0.59],[27.7,0.6],[27.8,0.56],[27.95,0.62],
  [28.05,0.58],[28.15,0.6],[28.3,0.57],[28.45,0.62],[28.55,0.59],[28.65,0.55],[28.8,0.6],[28.9,0.58],[29.0,0.63],[29.15,0.57],[29.25,0.61],[29.35,0.58],[29.5,0.56],[29.6,0.6],[29.7,0.62],[29.85,0.58],[29.95,0.55],[30.05,0.6],[30.2,0.57],[30.35,0.61],[30.45,0.58],[30.65,0.55],[30.75,0.62],[30.9,0.57],[31.0,0.6],[31.1,0.58],[31.25,0.62],[31.35,0.56],[31.45,0.59],[31.6,0.57],[31.7,0.61],[31.8,0.58],[31.95,0.6],[32.05,0.57],[32.15,0.63],[32.25,0.59],
]

// target profiles per stage
const fs1Target: Pt[] = [[0.5,0],[5.5,1],[6.5,1],[11.5,0],[12.5,0],[17.5,1],[18.5,1],[23.5,0],[24.5,0],[29.5,1],[30.5,1],[35.5,0]]
const fs2Target: Pt[] = [[0.5,1],[5.5,0],[6.5,0],[11.5,1],[12.5,1],[17.5,0],[18.5,0],[23.5,1],[24.5,1],[29.5,0],[30.5,0],[35.5,1]]
const fs3Target: Pt[] = [[0.5,0],[5.5,0],[6.5,0.2],[11.5,0.2],[12.5,0.4],[17.5,0.4],[18.5,0.6],[23.5,0.6],[24.5,0.8],[29.5,0.8],[30.5,1],[35.5,1]]
const fs4Target: Pt[] = [[0.5,1],[5.5,1],[6.5,0.8],[11.5,0.8],[12.5,0.6],[17.5,0.6],[18.5,0.4],[23.5,0.4],[24.5,0.2],[29.5,0.2],[30.5,0],[35.5,0]]
const fs5Target: Pt[] = [[0.5,0.5],[35.5,0.5]]

const xTicks = [0, 2.5, 5, 7.5, 10, 12.5, 15, 17.5, 20, 22.5, 25, 27.5, 30, 32.5, 35]
const yTicks = [0, 0.1, 0.2, 0.3, 0.4, 0.5, 0.6, 0.7, 0.8, 0.9, 1.0, 1.1, 1.2]

const seriesNames = ['FS1', 'FS2', 'FS3', 'FS4', 'FS5']
const dotColors = ['#0000ff', '#00ff00', '#ffff00', '#ff8000', '#ff0000']
const lineColors = ['#0b0b96', '#137d13', '#d4b000', '#c8650a', '#b00000']

const toXY = (pts: Pt[]) => pts.map(([x, y]) => ({ x, y }))

const tickFont = "'Liberation Sans', Arial, sans-serif"
const titleFont = "Lato, 'Open Sans', sans-serif"

const XTick = (props: any) => {
  const { x, y, payload } = props
  const major = payload.value % 5 === 0
  return (
    <g>
      <line x1={x} x2={x} y1={y} y2={y + (major ? 14 : 8)} stroke="#000" strokeWidth={2} />
      {major && (
        <text x={x} y={y + 40} textAnchor="middle" fontFamily={tickFont} fontSize={23} fill="#000">
          {payload.value}
        </text>
      )}
    </g>
  )
}

const YTick = (props: any) => {
  const { x, y, payload } = props
  const major = Math.round(payload.value * 10) % 2 === 0
  return (
    <g>
      <line x1={x - (major ? 12 : 7)} x2={x} y1={y} y2={y} stroke="#000" strokeWidth={2} />
      {major && (
        <text x={x - 20} y={y + 8} textAnchor="end" fontFamily={tickFont} fontSize={23} fill="#000">
          {payload.value.toFixed(1).replace('.', ',')}
        </text>
      )}
    </g>
  )
}

const XTitle = () => (
  <text x={533} y={720} textAnchor="middle" fontFamily={titleFont} fontSize={30.5} fill="#000">
    kombinatorische Stufe (normierte Zeit t/t
    <tspan dy={9} fontSize={19}>stage</tspan>
    <tspan dy={-9}>) [1]</tspan>
  </text>
)

const YTitle = () => (
  <text transform="translate(43, 341) rotate(-90)" textAnchor="middle" fontFamily={titleFont} fontSize={30.5} fill="#000">
    normierte Konzentration (c/c
    <tspan dy={8} fontSize={19}>max.</tspan>
    <tspan dy={-8}>)</tspan>
  </text>
)

const dotShape = (color: string) => (p: any) => <circle cx={p.cx} cy={p.cy} r={4.5} fill={color} />

const measured = [fs1Points, fs2Points, fs3Points, fs4Points, fs5Points]
const targets = [fs1Target, fs2Target, fs3Target, fs4Target, fs5Target]
// draw order of the target lines
const lineOrder = [4, 3, 2, 0, 1]

export default function App() {
  return (
    <div style={{ position: 'absolute', left: 0, top: 0, width: 1094, height: 734, background: '#fff' }}>
      <ComposedChart width={1094} height={734} margin={{ top: 15, right: 147, bottom: 0, left: 0 }}>
        <XAxis
          type="number"
          dataKey="x"
          domain={[0, 36]}
          ticks={xTicks}
          interval={0}
          allowDataOverflow
          height={109}
          tickSize={0}
          tickMargin={0}
          tickLine={false}
          axisLine={{ stroke: '#000', strokeWidth: 2 }}
          tick={<XTick />}
          label={<XTitle />}
        />
        <YAxis
          type="number"
          dataKey="y"
          domain={[-0.018, 1.222]}
          ticks={yTicks}
          interval={0}
          allowDataOverflow
          width={120}
          tickSize={0}
          tickMargin={0}
          tickLine={false}
          axisLine={{ stroke: '#000', strokeWidth: 2 }}
          tick={<YTick />}
          label={<YTitle />}
        />
        {measured.map((pts, i) => (
          <Scatter
            key={seriesNames[i]}
            name={seriesNames[i]}
            data={toXY(pts)}
            dataKey="y"
            fill={dotColors[i]}
            shape={dotShape(dotColors[i])}
            isAnimationActive={false}
          />
        ))}
        {lineOrder.map((i) => (
          <Line
            key={'target-' + seriesNames[i]}
            data={toXY(targets[i])}
            dataKey="y"
            type="linear"
            stroke={lineColors[i]}
            strokeWidth={4}
            dot={false}
            activeDot={false}
            legendType="none"
            isAnimationActive={false}
          />
        ))}
      </ComposedChart>
      <svg width={1094} height={734} style={{ position: 'absolute', left: 0, top: 0, pointerEvents: 'none' }}>
        <rect x={961} y={170} width={131} height={229} fill="#fff" stroke="#555" strokeWidth={1.5} />
        <text x={1028} y={210} textAnchor="middle" fontFamily={tickFont} fontSize={23} fill="#000">
          Messwerte
        </text>
        {seriesNames.map((name, i) => (
          <g key={name}>
            <circle cx={997} cy={233 + i * 30} r={3.5} fill={dotColors[i]} />
            <text x={1032} y={242 + i * 30} fontFamily={tickFont} fontSize={23} fill="#000">
              {name}
            </text>
          </g>
        ))}
      </svg>
    </div>
  )
}
